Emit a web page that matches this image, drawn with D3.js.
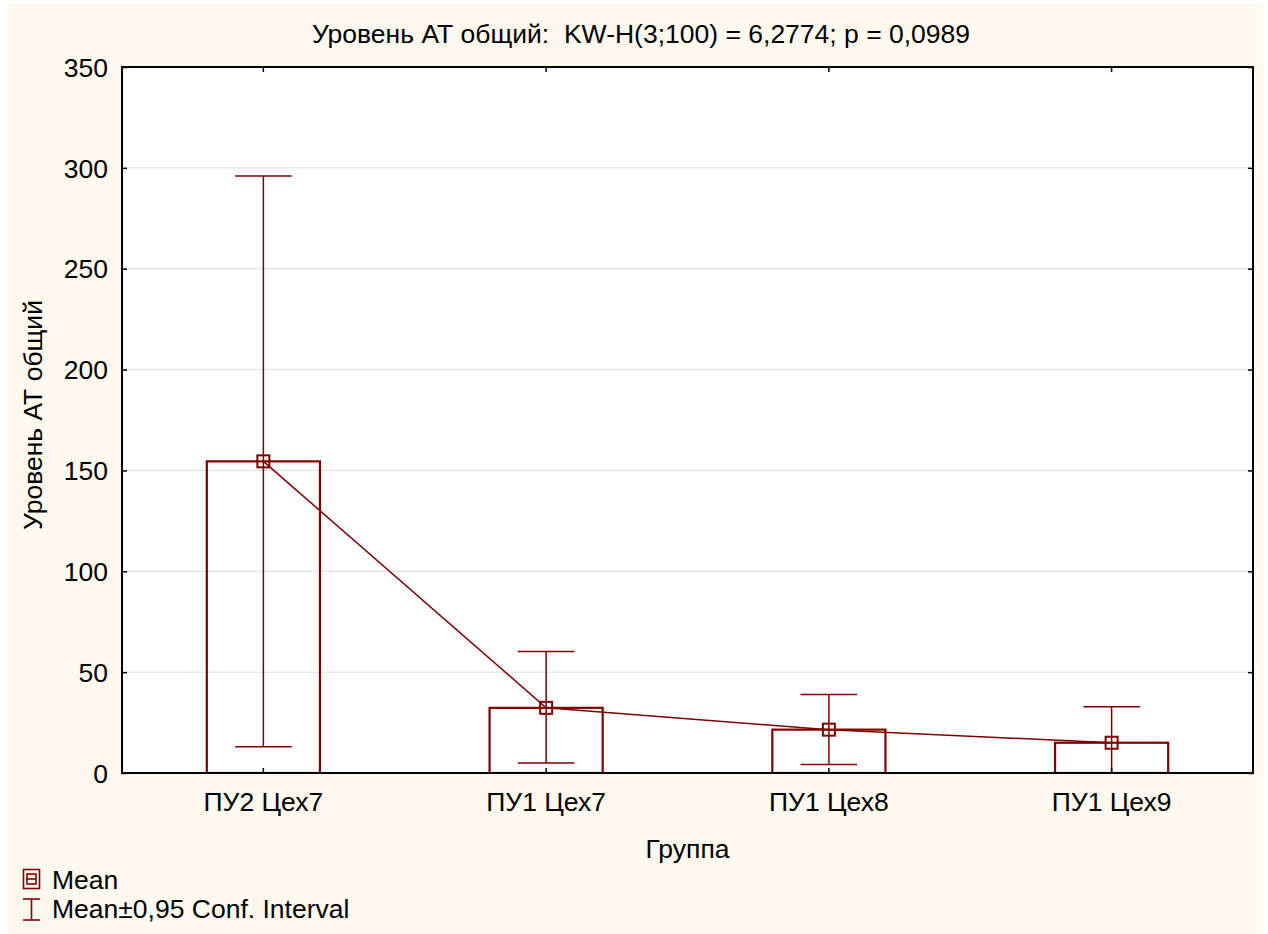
<!DOCTYPE html>
<html>
<head>
<meta charset="utf-8">
<script src="https://cdn.jsdelivr.net/npm/d3@7"></script>
<style>
	body { margin: 0; background: #fff; }
	svg { display: block; font-family: "Liberation Sans", Arial, sans-serif; }
</style>
</head>
<body>
<figure id="chart" style="margin:0"></figure>
<script>
// groups and statistics
const groups = ["ПУ2 Цех7", "ПУ1 Цех7", "ПУ1 Цех8", "ПУ1 Цех9"];
const means = [154.5, 32.3, 21.5, 15.0];
const ciLow = [13.0, 5.0, 4.2, -2.9];
const ciHigh = [296.0, 60.2, 38.9, 32.9];
const yTicks = [0, 50, 100, 150, 200, 250, 300, 350];

const title = "Уровень АТ общий:  KW-H(3;100) = 6,2774; p = 0,0989";
const yLabel = "Уровень АТ общий";
const xLabel = "Группа";

const width = 1268, height = 934;
const margin = { left: 122, top: 67, right: 15, bottom: 161 };
const red = "#800000";
const fontSize = 26.5;

const svg = d3.select("figure#chart").append("svg")
	.attr("width", width)
	.attr("height", height);

// cream page background, white plot area
svg.append("rect")
	.attr("x", 8).attr("y", 4)
	.attr("width", 1255).attr("height", height - 4)
	.attr("fill", "#fdf9ee");

const plotW = width - margin.left - margin.right;
const plotH = height - margin.top - margin.bottom;

const g = svg.append("g")
	.attr("transform", `translate(${margin.left},${margin.top})`);

g.append("rect")
	.attr("width", plotW).attr("height", plotH)
	.attr("fill", "#fff");

const xScale = d3.scaleBand()
	.domain(groups)
	.range([0, plotW]);
const yScale = d3.scaleLinear()
	.domain([0, 350])
	.range([plotH, 0]);

// gridlines
g.append("g")
	.selectAll("line")
	.data(yTicks.filter((d) => d > 0 && d < 350))
	.enter().append("line")
	.attr("x1", 0).attr("x2", plotW)
	.attr("y1", (d) => yScale(d)).attr("y2", (d) => yScale(d))
	.attr("stroke", "#dcdcdc")
	.attr("stroke-width", 1);

const data = groups.map((name, i) => ({ name, mean: means[i], lo: ciLow[i], hi: ciHigh[i] }));

g.append("clipPath").attr("id", "plotclip")
	.append("rect").attr("width", plotW).attr("height", plotH);

const marks = g.append("g").attr("clip-path", "url(#plotclip)");
const cx = (d) => xScale(d.name) + xScale.bandwidth() / 2;
const barW = xScale.bandwidth() * 0.4;
const capW = barW / 2;

// bars
marks.selectAll(".bar")
	.data(data)
	.enter().append("rect")
	.attr("class", "bar")
	.attr("x", (d) => cx(d) - barW / 2)
	.attr("y", (d) => yScale(d.mean))
	.attr("width", barW)
	.attr("height", (d) => yScale(0) - yScale(d.mean))
	.attr("fill", "none")
	.attr("stroke", red)
	.attr("stroke-width", 2.2);

// error bars
const err = marks.selectAll(".err")
	.data(data)
	.enter().append("g")
	.attr("stroke", red)
	.attr("stroke-width", 1.5);
err.append("line")
	.attr("x1", cx).attr("x2", cx)
	.attr("y1", (d) => yScale(d.lo)).attr("y2", (d) => yScale(d.hi));
err.append("line")
	.attr("x1", (d) => cx(d) - capW / 2).attr("x2", (d) => cx(d) + capW / 2)
	.attr("y1", (d) => yScale(d.hi)).attr("y2", (d) => yScale(d.hi));
err.append("line")
	.attr("x1", (d) => cx(d) - capW / 2).attr("x2", (d) => cx(d) + capW / 2)
	.attr("y1", (d) => yScale(d.lo)).attr("y2", (d) => yScale(d.lo));

// line through means
marks.append("path")
	.datum(data)
	.attr("fill", "none")
	.attr("stroke", red)
	.attr("stroke-width", 1.5)
	.attr("d", d3.line().x(cx).y((d) => yScale(d.mean)));

// mean markers
marks.selectAll(".marker")
	.data(data)
	.enter().append("rect")
	.attr("x", (d) => cx(d) - 6)
	.attr("y", (d) => yScale(d.mean) - 6)
	.attr("width", 12).attr("height", 12)
	.attr("fill", "none")
	.attr("stroke", red)
	.attr("stroke-width", 2);

// axes: ticks point inward like the original
const styleAxis = (sel) => {
	sel.select(".domain").remove();
	sel.selectAll(".tick line").attr("stroke", "#000").attr("stroke-width", 1.5);
	sel.selectAll(".tick text").attr("font-size", fontSize).attr("fill", "#000")
		.attr("font-family", "'Liberation Sans', Arial, sans-serif");
};

const yAxis = g.append("g")
	.call(d3.axisLeft(yScale).tickValues(yTicks).tickSizeInner(-5).tickPadding(14).tickFormat(d3.format("d")))
	.call(styleAxis);
yAxis.selectAll(".tick text").attr("dy", "0.35em");

g.append("g")
	.attr("transform", `translate(${plotW},0)`)
	.call(d3.axisRight(yScale).tickValues(yTicks).tickSizeInner(-5).tickFormat(""))
	.call(styleAxis);

const xAxis = g.append("g")
	.attr("transform", `translate(0,${plotH})`)
	.call(d3.axisBottom(xScale).tickSizeInner(-5).tickPadding(19))
	.call(styleAxis);

g.append("g")
	.call(d3.axisTop(xScale).tickSizeInner(-5).tickFormat(""))
	.call(styleAxis);

// frame
g.append("rect")
	.attr("width", plotW).attr("height", plotH)
	.attr("fill", "none")
	.attr("stroke", "#000")
	.attr("stroke-width", 2);

// texts
svg.append("text")
	.attr("x", 641).attr("y", 43)
	.attr("text-anchor", "middle")
	.attr("font-size", fontSize)
	.style("white-space", "pre")
	.text(title);

svg.append("text")
	.attr("transform", `translate(42,415) rotate(-90)`)
	.attr("text-anchor", "middle")
	.attr("font-size", fontSize)
	.text(yLabel);

svg.append("text")
	.attr("x", margin.left + plotW / 2).attr("y", 858)
	.attr("text-anchor", "middle")
	.attr("font-size", fontSize)
	.text(xLabel);

// legend
const legend = svg.append("g").attr("stroke", red).attr("fill", "none").attr("stroke-width", 1.6);
legend.append("rect").attr("x", 23.5).attr("y", 869.5).attr("width", 16).attr("height", 19);
legend.append("rect").attr("x", 27).attr("y", 874).attr("width", 9).attr("height", 10);
legend.append("line").attr("x1", 27).attr("x2", 36).attr("y1", 879).attr("y2", 879);
legend.append("line").attr("x1", 31.5).attr("x2", 31.5).attr("y1", 899).attr("y2", 920);
legend.append("line").attr("x1", 23).attr("x2", 40).attr("y1", 899).attr("y2", 899);
legend.append("line").attr("x1", 23).attr("x2", 40).attr("y1", 920).attr("y2", 920);

svg.append("text").attr("x", 52).attr("y", 889).attr("font-size", fontSize).text("Mean");
svg.append("text").attr("x", 52).attr("y", 918).attr("font-size", fontSize).text("Mean±0,95 Conf. Interval");
</script>
</body>
</html>
